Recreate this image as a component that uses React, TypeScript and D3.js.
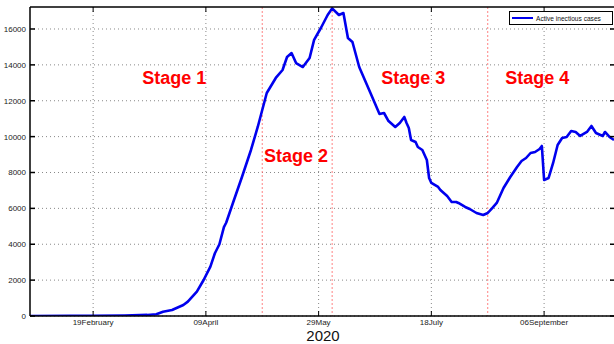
import React from "react";
import * as d3 from "d3";

// Daily snapshots of active infectious cases, 2020
const dates = [
  "2020-01-22", "2020-02-09", "2020-02-19", "2020-03-04", "2020-03-14", "2020-03-18",
  "2020-03-21", "2020-03-25", "2020-03-30", "2020-04-01", "2020-04-05", "2020-04-08",
  "2020-04-11", "2020-04-13", "2020-04-15", "2020-04-17", "2020-04-18", "2020-04-21",
  "2020-04-25", "2020-04-29", "2020-05-02", "2020-05-04", "2020-05-06", "2020-05-10",
  "2020-05-13", "2020-05-15", "2020-05-17", "2020-05-19", "2020-05-22", "2020-05-25",
  "2020-05-27", "2020-05-30", "2020-06-02", "2020-06-04", "2020-06-07", "2020-06-09",
  "2020-06-11", "2020-06-13", "2020-06-16", "2020-06-21", "2020-06-25", "2020-06-27",
  "2020-06-29", "2020-07-02", "2020-07-04", "2020-07-06", "2020-07-07", "2020-07-08",
  "2020-07-09", "2020-07-11", "2020-07-12", "2020-07-14", "2020-07-16", "2020-07-17",
  "2020-07-18", "2020-07-21", "2020-07-22", "2020-07-25", "2020-07-27", "2020-07-29",
  "2020-07-30", "2020-08-02", "2020-08-04", "2020-08-07", "2020-08-10", "2020-08-12",
  "2020-08-14", "2020-08-16", "2020-08-19", "2020-08-22", "2020-08-25", "2020-08-27",
  "2020-08-29", "2020-08-31", "2020-09-02", "2020-09-04", "2020-09-05", "2020-09-06",
  "2020-09-08", "2020-09-10", "2020-09-12", "2020-09-14", "2020-09-16", "2020-09-18",
  "2020-09-20", "2020-09-22", "2020-09-25", "2020-09-27", "2020-09-29", "2020-10-02",
  "2020-10-03", "2020-10-05", "2020-10-07",
];

const activeCases = [
  0, 5, 15, 30, 60, 100,
  240, 335, 613, 800, 1355, 2007,
  2750, 3500, 4000, 4950, 5200, 6300,
  7750, 9255, 10537, 11485, 12430, 13270,
  13715, 14440, 14660, 14100, 13880, 14380,
  15390, 16056, 16780, 17150, 16780, 16890,
  15500, 15275, 13880, 12430, 11260, 11317,
  10870, 10537, 10760, 11094, 10760, 10481,
  9812, 9700, 9422, 9255, 8697, 7694,
  7415, 7192, 7025, 6690, 6356, 6356,
  6300, 6077, 5965, 5742, 5630, 5742,
  6020, 6300, 7136, 7750, 8307, 8640,
  8808, 9087, 9143, 9310, 9478, 7580,
  7694, 8530, 9533, 9924, 9980, 10314,
  10258, 10035, 10258, 10593, 10202, 10035,
  10258, 9980, 9812,
];

const xTickDates = ["2020-02-19", "2020-04-09", "2020-05-29", "2020-07-18", "2020-09-06"];
const xTickLabels = ["19February", "09April", "29May", "18July", "06September"];
const yTicks = [0, 2000, 4000, 6000, 8000, 10000, 12000, 14000, 16000];

// Boundaries between the stages
const stageBoundaries = ["2020-05-04", "2020-06-04", "2020-08-12"];
const stageNames = ["Stage 1", "Stage 2", "Stage 3", "Stage 4"];
const stageLabelDates = ["2020-03-26", "2020-05-19", "2020-07-10", "2020-09-03"];
const stageLabelValues = [12950, 8600, 12950, 12950];

const parse = d3.utcParse("%Y-%m-%d");

export default function App() {
  const width = 614;
  const height = 344;
  const left = 30;
  const right = 614;
  const top = 7;
  const bottom = 316;

  const x = d3
    .scaleUtc()
    .domain([parse("2020-01-22")!, parse("2020-10-07")!])
    .range([left, right]);
  const y = d3.scaleLinear().domain([0, 17226]).range([bottom, top]);

  const series = dates.map((d, i) => ({ date: parse(d)!, value: activeCases[i] }));
  const line = d3
    .line<{ date: Date; value: number }>()
    .x((d) => x(d.date))
    .y((d) => y(d.value));

  const font = "'Liberation Sans', Arial, Helvetica, sans-serif";

  return (
    <svg
      width={width}
      height={height}
      style={{ position: "absolute", left: 0, top: 0, background: "#fff" }}
      fontFamily={font}
    >
      <defs>
        <clipPath id="plot-clip">
          <rect x={left} y={top} width={right - left} height={bottom - top} />
        </clipPath>
      </defs>
      <rect x={0} y={0} width={width} height={height} fill="#fff" />

      {/* horizontal grid */}
      {yTicks.map((t) => (
        <line
          key={"gy" + t}
          x1={left}
          x2={right}
          y1={y(t)}
          y2={y(t)}
          stroke="#888"
          strokeWidth={1}
          strokeDasharray="1,3"
        />
      ))}
      {/* vertical grid */}
      {xTickDates.map((d) => (
        <line
          key={"gx" + d}
          x1={x(parse(d)!)}
          x2={x(parse(d)!)}
          y1={top}
          y2={bottom}
          stroke="#888"
          strokeWidth={1}
          strokeDasharray="1,3"
        />
      ))}

      {/* stage boundaries */}
      {stageBoundaries.map((d) => (
        <line
          key={"sb" + d}
          x1={x(parse(d)!)}
          x2={x(parse(d)!)}
          y1={top}
          y2={bottom}
          stroke="#f66"
          strokeWidth={1}
          strokeDasharray="2,2"
          opacity={0.8}
        />
      ))}

      {/* data line */}
      <path
        d={line(series) ?? ""}
        fill="none"
        stroke="#0000ee"
        strokeWidth={2.6}
        strokeLinejoin="round"
        clipPath="url(#plot-clip)"
      />

      {/* stage labels */}
      {stageNames.map((s, i) => (
        <text
          key={s}
          x={x(parse(stageLabelDates[i])!)}
          y={y(stageLabelValues[i])}
          textAnchor="middle"
          fontSize={18}
          fontWeight="bold"
          fill="#ff0000"
        >
          {s}
        </text>
      ))}

      {/* frame */}
      <line x1={left} x2={right} y1={top} y2={top} stroke="#000" strokeWidth={1.5} />
      <line x1={left} x2={right} y1={bottom} y2={bottom} stroke="#000" strokeWidth={1.5} />
      <line x1={left} x2={left} y1={top} y2={bottom} stroke="#000" strokeWidth={1.5} />

      {/* y ticks */}
      {yTicks.map((t) => (
        <g key={"ty" + t}>
          <line x1={left} x2={left + 5} y1={y(t)} y2={y(t)} stroke="#000" strokeWidth={1.5} />
          <line x1={right - 4} x2={right} y1={y(t)} y2={y(t)} stroke="#000" strokeWidth={1.5} />
          <text
            x={left - 4}
            y={y(t) + 3}
            textAnchor="end"
            fontSize={8}
            fill="#222"
          >
            {t}
          </text>
        </g>
      ))}

      {/* x ticks */}
      {xTickDates.map((d, i) => (
        <g key={"tx" + d}>
          <line
            x1={x(parse(d)!)}
            x2={x(parse(d)!)}
            y1={bottom}
            y2={bottom - 5}
            stroke="#000"
            strokeWidth={1}
          />
          <line
            x1={x(parse(d)!)}
            x2={x(parse(d)!)}
            y1={top}
            y2={top + 5}
            stroke="#000"
            strokeWidth={1}
          />
          <text
            x={x(parse(d)!)}
            y={bottom + 9}
            textAnchor="middle"
            fontSize={8}
            fill="#222"
          >
            {xTickLabels[i]}
          </text>
        </g>
      ))}

      <text x={323} y={341} textAnchor="middle" fontSize={15} fill="#111">
        2020
      </text>

      {/* legend */}
      <g>
        <rect x={509.5} y={11.5} width={103} height={13} fill="#fff" stroke="#000" strokeWidth={1} />
        <line x1={512} x2={533} y1={18} y2={18} stroke="#0000ee" strokeWidth={2} />
        <text x={536} y={20.5} fontSize={6.6} fill="#111">
          Active inectious cases
        </text>
      </g>
    </svg>
  );
}
